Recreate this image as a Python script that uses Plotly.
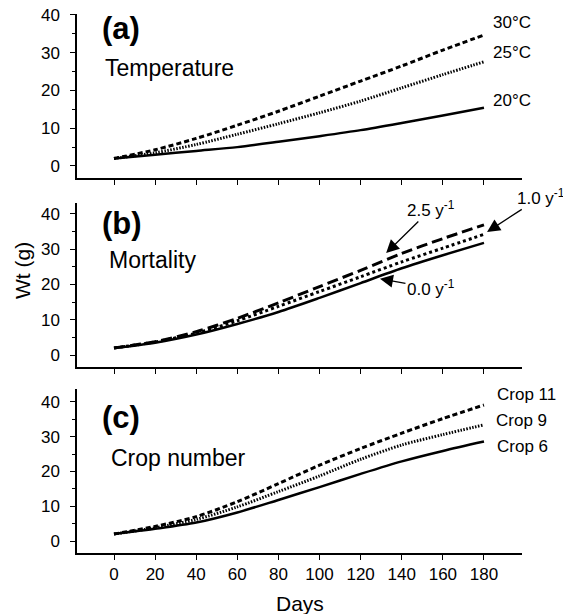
import plotly.graph_objects as go

days = [0, 20, 40, 60, 80, 100, 120, 140, 160, 180]

# Panel (a) Temperature
t30 = [2.0, 4.3, 7.3, 10.8, 14.5, 18.5, 22.5, 26.5, 30.7, 34.7]
t25 = [2.0, 3.5, 5.7, 8.4, 11.2, 14.1, 17.2, 20.7, 24.2, 27.6]
t20 = [2.0, 3.0, 4.0, 5.0, 6.4, 7.9, 9.5, 11.4, 13.4, 15.4]

# Panel (b) Mortality
m25 = [2.0, 3.8, 6.6, 10.4, 14.8, 19.4, 24.0, 28.8, 33.0, 36.9]
m10 = [2.0, 3.7, 6.2, 9.7, 13.8, 18.0, 22.2, 26.4, 30.3, 34.2]
m00 = [2.0, 3.5, 5.8, 8.8, 12.2, 16.2, 20.4, 24.6, 28.3, 31.8]

# Panel (c) Crop number
c11 = [2.0, 4.2, 7.0, 11.3, 16.5, 21.8, 26.6, 31.0, 35.2, 39.1]
c9 = [2.0, 3.8, 6.2, 9.8, 14.2, 18.7, 23.5, 27.6, 30.6, 33.4]
c6 = [2.0, 3.5, 5.3, 8.2, 11.8, 15.5, 19.3, 22.9, 25.9, 28.6]

xticks = [0, 20, 40, 60, 80, 100, 120, 140, 160, 180]
yticks = [0, 10, 20, 30, 40]

W, H = 563, 614
FONT = "Liberation Sans, Arial, Helvetica, sans-serif"

def px(x):
    return x / W

def py(y):
    return (H - y) / H

fig = go.Figure()

DASH_A = "5px,3px"
DOT_A = "1.5px,1.5px"
LONG_B = "11px,5px"
DOT_B = "3px,3px"

def add(x, y, dash, xa, ya, width=2.5):
    fig.add_trace(go.Scatter(x=x, y=y, mode="lines", xaxis=xa, yaxis=ya,
                             line=dict(color="black", width=width, dash=dash, shape="spline", smoothing=0.8),
                             showlegend=False, hoverinfo="skip"))

add(days, t30, DASH_A, "x", "y", 3)
add(days, t25, DOT_A, "x", "y", 3)
add(days, t20, "solid", "x", "y", 2.5)

add(days, m25, LONG_B, "x2", "y2", 3)
add(days, m10, DOT_B, "x2", "y2", 3)
add(days, m00, "solid", "x2", "y2", 2.5)

add(days, c11, DASH_A, "x3", "y3", 3)
add(days, c9, DOT_A, "x3", "y3", 3)
add(days, c6, "solid", "x3", "y3", 2.5)

xdom = [px(77), px(522)]
xr = [-18.0, 198.5]
doms = {
    "a": [py(178), py(14)],
    "b": [py(367), py(203)],
    "c": [py(553), py(389)],
}
yr = {
    "a": [-3.18, 40.26],
    "b": [-3.40, 43.1],
    "c": [-3.45, 43.7],
}

def xaxis(anchor, labels):
    return dict(domain=xdom, range=xr, anchor=anchor, showline=True, linecolor="black",
                linewidth=1.5, ticks="outside", ticklen=5, tickwidth=1, tickcolor="black",
                tickvals=xticks, showticklabels=labels, showgrid=False, zeroline=False,
                automargin=False, tickfont=dict(family=FONT, size=17, color="black"))

def yaxis(anchor, key):
    return dict(domain=doms[key], range=yr[key], anchor=anchor, showline=True, linecolor="black",
                linewidth=1.5, ticks="outside", ticklen=5, tickwidth=1, tickcolor="black",
                tickvals=yticks, showgrid=False, zeroline=False, automargin=False,
                ticklabelstandoff=7,
                minor=dict(dtick=5, tick0=0, ticks="outside", ticklen=3, tickcolor="black", tickwidth=1),
                tickfont=dict(family=FONT, size=17, color="black"))

fig.update_layout(
    width=W, height=H, margin=dict(l=0, r=0, t=0, b=0),
    template="none", paper_bgcolor="white", plot_bgcolor="white",
    font=dict(family=FONT, color="black"),
    xaxis=xaxis("y", False), yaxis=yaxis("x", "a"),
    xaxis2=xaxis("y2", False), yaxis2=yaxis("x2", "b"),
    xaxis3=xaxis("y3", True), yaxis3=yaxis("x3", "c"),
)

ann = []
def ptext(text, x, y, size, bold=False, xanchor="left"):
    ann.append(dict(text=("<b>%s</b>" % text) if bold else text, x=px(x), y=py(y),
                    xref="paper", yref="paper", xanchor=xanchor, yanchor="middle",
                    showarrow=False, font=dict(family=FONT, size=size, color="black")))

ptext("(a)", 100, 28, 31, bold=True)
ptext("Temperature", 103, 68, 23)
ptext("(b)", 100, 223, 31, bold=True)
ptext("Mortality", 107, 260, 23)
ptext("(c)", 100, 417, 31, bold=True)
ptext("Crop number", 109, 458, 23)
ptext("Days", 300, 603, 21, xanchor="center")
ann.append(dict(text="Wt (g)", x=px(22), y=py(271), xref="paper", yref="paper",
                textangle=-90, showarrow=False, xanchor="center", yanchor="middle",
                font=dict(family=FONT, size=21, color="black")))

def endlabel(text, xa, ya, yval, xshift, yshift):
    ann.append(dict(text=text, x=180, y=yval, xref=xa, yref=ya, xanchor="left", yanchor="middle",
                    xshift=xshift, yshift=yshift, showarrow=False,
                    font=dict(family=FONT, size=17, color="black")))

endlabel("30°C", "x", "y", t30[-1], 7, 12)
endlabel("25°C", "x", "y", t25[-1], 7, 9)
endlabel("20°C", "x", "y", t20[-1], 7, 7)
endlabel("Crop 11", "x3", "y3", c11[-1], 11, 11)
endlabel("Crop 9", "x3", "y3", c9[-1], 10, 4)
endlabel("Crop 6", "x3", "y3", c6[-1], 11, -5)

def arrowlabel(text, xv, yv, ax, ay):
    ann.append(dict(text=text, x=xv, y=yv, xref="x2", yref="y2", ax=ax, ay=ay,
                    axref="pixel", ayref="pixel", showarrow=True, arrowhead=2,
                    arrowsize=2.0, arrowwidth=1.3, arrowcolor="black",
                    font=dict(family=FONT, size=17, color="black")))

arrowlabel("2.5 y<sup>-1</sup>", 132.4, 28.9, 45, -44)
arrowlabel("1.0 y<sup>-1</sup>", 181.5, 34.9, 54, -35)
arrowlabel("0.0 y<sup>-1</sup>", 129.4, 21.6, 51, 9)

fig.update_layout(annotations=ann)
fig.write_html("out.html")
